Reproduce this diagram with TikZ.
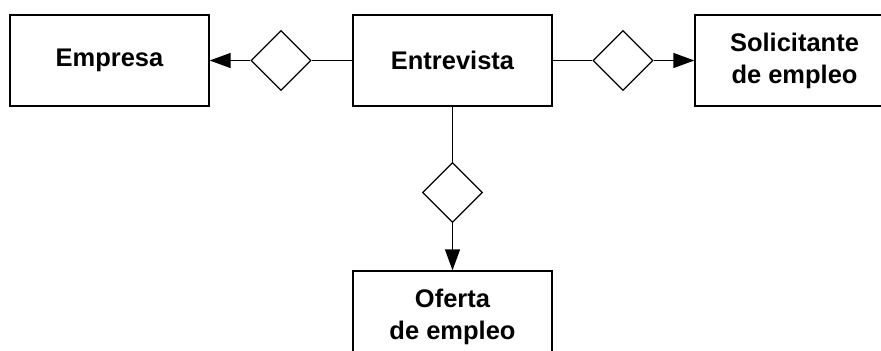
\documentclass[tikz,border=0pt]{standalone}
\usepackage{fontspec}
\setmainfont{Liberation Sans}
\usetikzlibrary{shapes.geometric,arrows.meta,positioning}

\begin{document}
\begin{tikzpicture}[
    entity/.style={rectangle, draw, line width=0.75pt, minimum width=3.98cm, minimum height=1.82cm, align=center, font=\fontsize{14.5}{18.3}\selectfont\bfseries},
    relation/.style={diamond, draw, line width=0.75pt, minimum width=1.2cm, minimum height=1.2cm, inner sep=0pt},
    link/.style={line width=0.75pt},
    arrow/.style={-{Triangle[length=0.42cm,width=0.3cm]}, line width=0.75pt}
]
\useasboundingbox (0,0) rectangle (17.62,-7.02);

% Entities
\node[entity] (empresa) at (2.19,-1.21) {Empresa};
\node[entity] (entrevista) at (9.05,-1.21) {Entrevista};
\node[entity] (solicitante) at (15.89,-1.21) {Solicitante\\de empleo};
\node[entity] (oferta) at (9.05,-6.33) {Oferta\\de empleo};

% Relations
\node[relation] (relempresa) at (5.62,-1.21) {};
\node[relation] (relsolicitante) at (12.46,-1.21) {};
\node[relation] (reloferta) at (9.05,-3.85) {};

% Connections
\draw[link] (entrevista) -- (relempresa);
\draw[arrow] (relempresa) -- (empresa);
\draw[link] (entrevista) -- (relsolicitante);
\draw[arrow] (relsolicitante) -- (solicitante);
\draw[link] (entrevista) -- (reloferta);
\draw[arrow] (reloferta) -- (oferta);

\end{tikzpicture}
\end{document}
